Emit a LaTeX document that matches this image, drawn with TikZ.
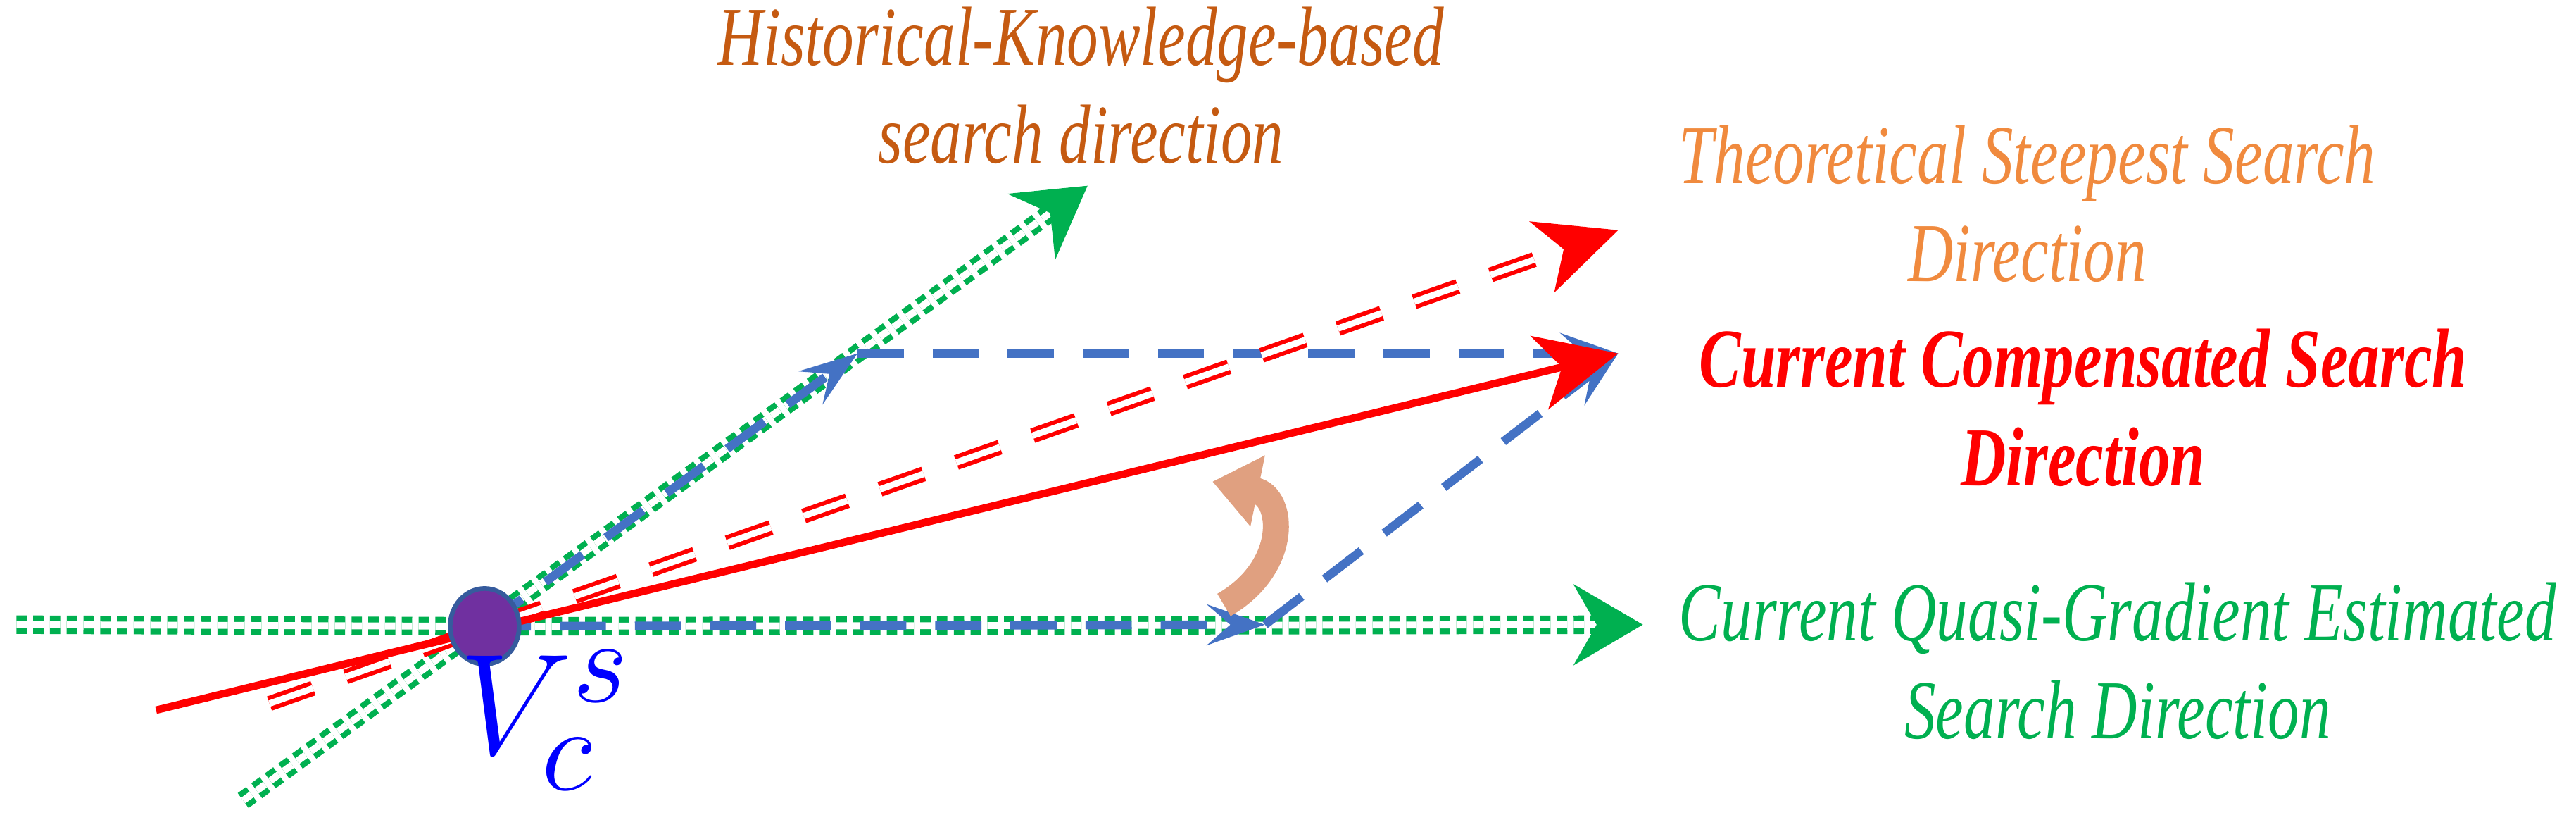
\documentclass[tikz,border=0pt]{standalone}
\usepackage{fontspec}
\setmainfont{Liberation Serif}
\usetikzlibrary{arrows.meta,shapes.geometric}
\definecolor{gr}{HTML}{00B050}
\definecolor{bl}{HTML}{4472C4}
\definecolor{hist}{HTML}{C55A11}
\definecolor{theo}{HTML}{F08A3E}
\definecolor{pur}{HTML}{7030A0}
\definecolor{peach}{HTML}{E0A080}
\begin{document}
\begin{tikzpicture}[x=0.01cm,y=-0.01cm,
  gline/.style={draw=gr,double=white,line width=1pt,double distance=1.2pt,dash pattern=on 1.8pt off 1.1pt,-{Stealth[length=12pt,width=14pt,inset=4pt,fill=gr]}},
  gline0/.style={draw=gr,double=white,line width=1pt,double distance=1.2pt,dash pattern=on 1.8pt off 1.1pt},
  rdash/.style={draw=red,double=white,line width=0.75pt,double distance=1.1pt,dash pattern=on 8pt off 6pt},
  bdash/.style={draw=bl,line width=1.5pt,dash pattern=on 8pt off 5pt,-{Stealth[length=10pt,width=7pt,inset=4pt]}},
  lab/.style={font=\itshape\fontsize{14.5}{17}\selectfont,align=center,xscale=0.75,transform shape}]
\useasboundingbox (0,0) rectangle (1568,503);
\coordinate (gL) at (10,380);
\coordinate (gR) at (1000,380);
\coordinate (gB) at (148,487);
\coordinate (gT) at (662,113);
\coordinate (rB) at (164,428);
\coordinate (rT) at (985,140);
\coordinate (sB) at (95,432);
\coordinate (sT) at (985,215);
\coordinate (q) at (770,380);
\coordinate (h) at (522,215);
\coordinate (c) at (295,381);
% green
\draw[gline0] (gL) -- (c);
\draw[gline] (c) -- (gR);
\draw[gline] (gB) -- (gT);
% blue
\draw[bdash] (c) -- (q);
\draw[bdash] (c) -- (h);
\draw[bdash] (h) -- (sT);
\draw[bdash] (q) -- (sT);
% red
\draw[rdash,-{Stealth[length=14pt,width=13pt,inset=4pt]}] (rB) -- (rT);
\draw[red,line width=1.3pt,-{Stealth[length=14pt,width=13pt,inset=4pt]}] (sB) -- (sT);
% curved arrow
\draw[peach,line width=4.5pt,-{Triangle[length=8pt,width=12pt]}] (745,368) .. controls (785,345) and (782,302) .. (738,293);
% node
\node[ellipse,draw=bl!80!black,fill=pur,line width=0.8pt,minimum width=0.42cm,minimum height=0.46cm,inner sep=0] (v) at (c) {};
\node[text=blue,font=\fontsize{30}{30}\selectfont] (vl) at (332,438) {$V_c^s$};
% labels
\node[lab,text=hist] (t1) at (658,52) {Historical-Knowledge-based\\search direction};
\node[lab,text=theo] (t2) at (1234,124) {Theoretical Steepest Search\\Direction};
\node[lab,text=red,font=\bfseries\itshape\fontsize{14.5}{17}\selectfont] (t3) at (1268,248) {Current Compensated Search\\Direction};
\node[lab,text=gr] (t4) at (1289,402) {Current Quasi-Gradient Estimated\\Search Direction};
\end{tikzpicture}
\end{document}
